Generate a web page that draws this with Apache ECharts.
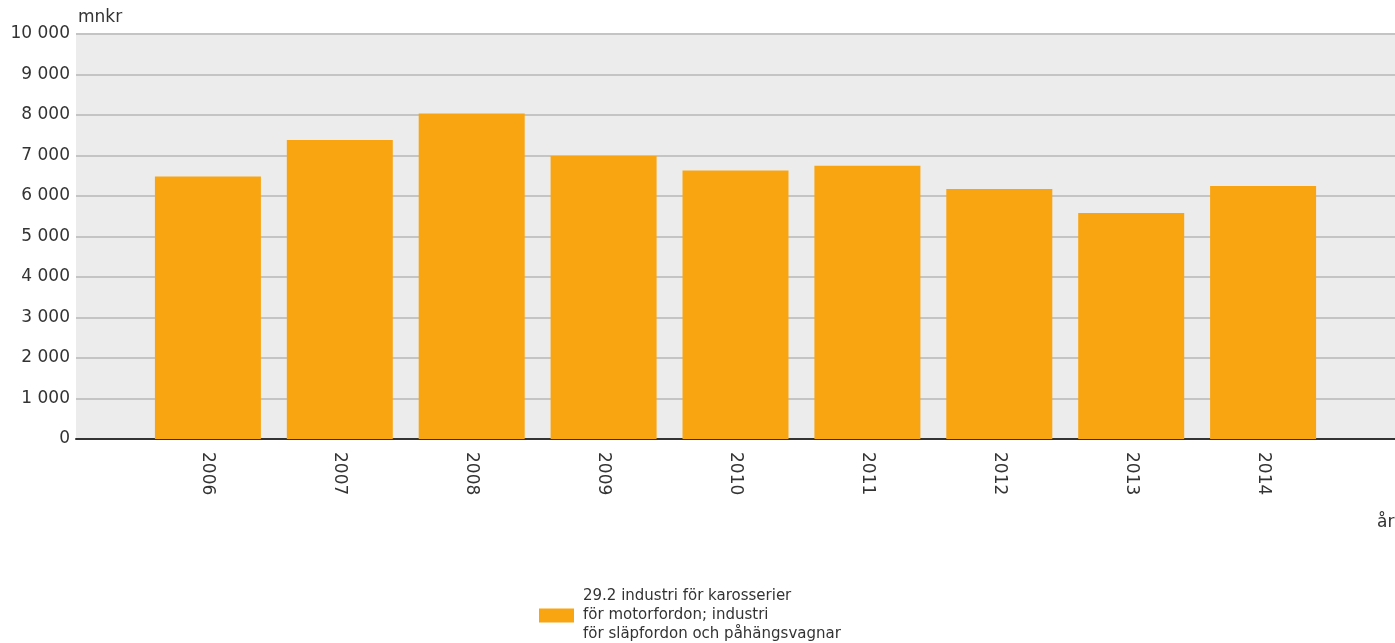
<!DOCTYPE html>
<html>
<head>
<meta charset="utf-8">
<script src="https://cdn.jsdelivr.net/npm/echarts@6/dist/echarts.min.js"></script>
<style>
html,body{margin:0;padding:0;background:#fff;}
#chart{width:1395px;height:643px;}
</style>
</head>
<body>
<div id="chart"></div>
<script>
const years = [2006, 2007, 2008, 2009, 2010, 2011, 2012, 2013, 2014];
const values = [6480, 7380, 8040, 6990, 6630, 6750, 6170, 5580, 6250];
const seriesName = "29.2 industri för karosserier\nför motorfordon; industri\nför släpfordon och påhängsvagnar";
const yUnit = "mnkr";
const xUnit = "år";

const font = "DejaVu Sans";
const chart = echarts.init(document.getElementById('chart'), null, {renderer: 'canvas'});
function fmtNum(v) {
  return String(v).replace(/\B(?=(\d{3})+(?!\d))/g, ' ');
}
chart.setOption({
  animation: false,
  backgroundColor: '#ffffff',
  textStyle: {fontFamily: font},
  grid: {left: 76, right: -1, top: 34, bottom: 204, show: true, backgroundColor: '#ececec', borderWidth: 0},
  xAxis: {
    type: 'value', min: 2005, max: 2015, interval: 1,
    axisLine: {show: true, lineStyle: {color: '#333', width: 2}},
    axisTick: {show: false},
    splitLine: {show: false},
    axisLabel: {
      rotate: -90, margin: 13, color: '#333', fontSize: 17, fontFamily: font,
      formatter: function (v) { return years.indexOf(v) >= 0 ? String(v) : ''; }
    }
  },
  yAxis: {
    type: 'value', min: 0, max: 10000, interval: 1000,
    axisLine: {show: false},
    axisTick: {show: false},
    splitLine: {show: true, lineStyle: {color: '#c4c4c4', width: 2}},
    axisLabel: {color: '#333', fontSize: 17, fontFamily: font, margin: 6, formatter: fmtNum}
  },
  legend: {
    show: true, left: 539, top: 587, orient: 'vertical', padding: 0,
    itemWidth: 35, itemHeight: 14, itemGap: 8,
    icon: 'rect',
    textStyle: {color: '#333', fontSize: 15, fontFamily: font, lineHeight: 19, padding: [0, 0, 0, 4]},
    data: [seriesName]
  },
  graphic: [
    {type: 'text', left: 78, top: 9, style: {text: yUnit, fill: '#333', font: '17px "DejaVu Sans"'}},
    {type: 'text', left: 1377, top: 514, style: {text: xUnit, fill: '#333', font: '17px "DejaVu Sans"'}}
  ],
  series: [{
    name: seriesName,
    type: 'bar',
    barWidth: 106,
    itemStyle: {color: '#f9a512'},
    data: years.map((y, i) => [y, values[i]])
  }]
});
</script>
</body>
</html>
